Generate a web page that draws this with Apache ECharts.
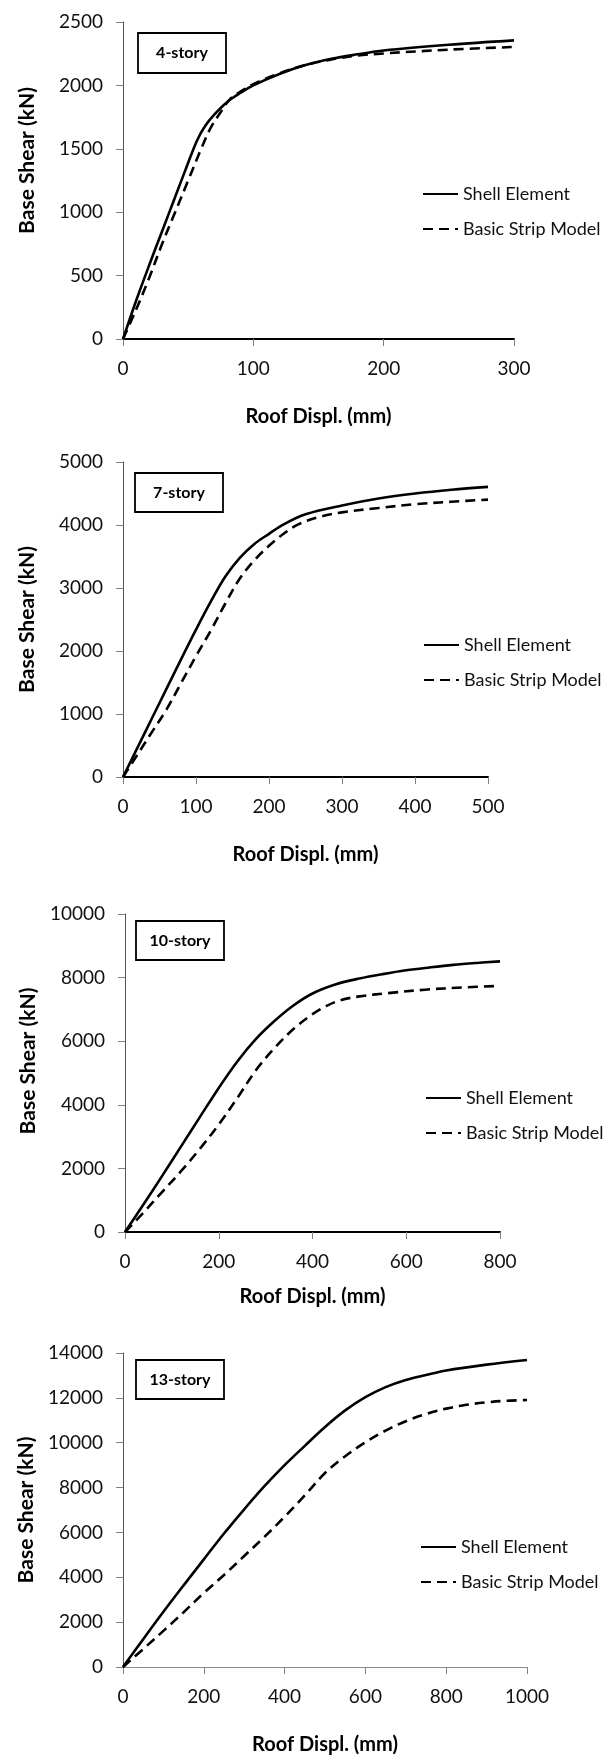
<!DOCTYPE html>
<html>
<head>
<meta charset="utf-8">
<script src="https://cdn.jsdelivr.net/npm/echarts@6/dist/echarts.min.js"></script>
<style>
  html, body { margin: 0; padding: 0; background: #fff; }
  #main { width: 611px; height: 1756px; }
</style>
</head>
<body>
<div id="main"></div>
<script>
// panel labels and axis ranges
var storyLabels = ['4-story', '7-story', '10-story', '13-story'];
var seriesNames = ['Shell Element', 'Basic Strip Model'];
var xMax = [300, 500, 800, 1000];
var xStep = [100, 100, 200, 200];
var yMax = [2500, 5000, 10000, 14000];
var yStep = [500, 1000, 2000, 2000];

// [roof displ. (mm), base shear (kN)]
var shell4 = [[0,0],[10,300],[20,580],[30,850],[40,1120],[50,1390],[57,1570],[63,1680],[70,1770],[80,1870],[90,1940],[100,2000],[120,2090],[140,2160],[160,2210],[180,2245],[200,2275],[250,2320],[300,2355]];
var strip4 = [[0,0],[10,230],[20,480],[30,750],[40,1000],[50,1250],[60,1500],[67,1660],[75,1790],[82,1890],[90,1950],[100,2010],[120,2095],[140,2160],[160,2205],[180,2235],[200,2252],[250,2282],[300,2303]];

var shell7 = [[0,0],[20,470],[40,940],[60,1410],[80,1880],[100,2340],[120,2780],[140,3180],[160,3480],[180,3700],[200,3860],[220,4010],[250,4170],[300,4310],[350,4420],[400,4500],[450,4560],[500,4605]];
var strip7 = [[0,0],[20,360],[40,720],[60,1080],[80,1500],[100,1920],[120,2320],[140,2750],[160,3150],[180,3440],[200,3670],[220,3860],[240,4010],[270,4130],[300,4200],[350,4270],[400,4330],[450,4370],[500,4403]];

var shell10 = [[0,0],[40,880],[80,1780],[120,2700],[160,3620],[200,4530],[240,5370],[280,6080],[320,6650],[360,7130],[400,7500],[450,7790],[500,7970],[550,8110],[600,8230],[650,8320],[700,8400],[750,8460],[800,8510]];
var strip10 = [[0,0],[40,620],[80,1270],[120,1920],[160,2620],[200,3380],[240,4220],[280,5100],[320,5800],[360,6390],[400,6850],[430,7110],[460,7290],[500,7410],[560,7510],[640,7620],[720,7690],[800,7740]];

var shell13 = [[0,0],[50,1240],[100,2460],[150,3640],[200,4800],[250,5950],[300,7030],[350,8060],[400,9000],[450,9860],[500,10700],[550,11440],[600,12030],[650,12480],[700,12800],[750,13020],[800,13220],[900,13480],[1000,13690]];
var strip13 = [[0,0],[50,800],[100,1610],[150,2440],[200,3300],[250,4100],[300,4950],[350,5800],[400,6700],[450,7650],[500,8650],[550,9400],[600,10020],[650,10540],[700,10960],[750,11280],[800,11520],[850,11690],[900,11800],[950,11870],[1000,11905]];

var shellData = [shell4, shell7, shell10, shell13];
var stripData = [strip4, strip7, strip10, strip13];

var font = 'Lato, "Open Sans", sans-serif';

// plot areas in px
var plots = [
  { left: 123, top: 22,   right: 514, bottom: 339 },
  { left: 123, top: 462,  right: 488, bottom: 777 },
  { left: 125, top: 914,  right: 500, bottom: 1232 },
  { left: 123, top: 1353, right: 527, bottom: 1669 }
];
var legendPos = [[422, 185], [423, 636], [425, 1089], [420, 1538]];
var boxes = [[138, 33, 88, 40], [135, 473, 88, 39], [136, 921, 88, 39], [136, 1360, 88, 39]];
var xNameGap = [68, 68, 55, 68];
var yNamePad = [40, 0, 24, 0];

function plain(v) { return String(v); }

var grid = [], xAxis = [], yAxis = [], series = [], legend = [], graphic = [];

for (var i = 0; i < 4; i++) {
  var p = plots[i];
  grid.push({
    left: p.left, top: p.top,
    width: p.right - p.left, height: p.bottom - p.top,
    containLabel: false
  });
  xAxis.push({
    gridIndex: i, type: 'value', min: 0, max: xMax[i], interval: xStep[i],
    name: 'Roof Displ. (mm)', nameLocation: 'middle', nameGap: xNameGap[i],
    nameTextStyle: { fontFamily: font, fontWeight: 'bold', fontSize: 20, color: '#000' },
    axisLine: { show: true, lineStyle: { color: i < 3 ? '#000' : '#8c8c8c', width: i < 3 ? 2 : 1 } },
    axisTick: { show: true, length: 7, lineStyle: { color: '#808080' } },
    splitLine: { show: false },
    axisLabel: { fontFamily: font, fontSize: 19, color: '#111', margin: 20, formatter: plain }
  });
  yAxis.push({
    gridIndex: i, type: 'value', min: 0, max: yMax[i], interval: yStep[i],
    name: 'Base Shear (kN)', nameLocation: 'middle', nameGap: 85,
    nameTextStyle: { fontFamily: font, fontWeight: 'bold', fontSize: 21, color: '#000',
                     padding: [0, 0, 0, yNamePad[i]] },
    axisLine: { show: true, lineStyle: { color: '#555', width: 1 } },
    axisTick: { show: true, length: 7, lineStyle: { color: '#808080' } },
    splitLine: { show: false },
    axisLabel: { fontFamily: font, fontSize: 19, color: '#111', margin: 20, formatter: plain }
  });
  series.push({
    name: seriesNames[0], type: 'line', xAxisIndex: i, yAxisIndex: i,
    data: shellData[i], smooth: 0.35, symbol: 'none',
    lineStyle: { color: '#000', width: 2.6 }, itemStyle: { color: '#000' }
  });
  series.push({
    name: seriesNames[1], type: 'line', xAxisIndex: i, yAxisIndex: i,
    data: stripData[i], smooth: 0.35, symbol: 'none',
    lineStyle: { color: '#000', width: 2.6, type: [10, 6] }, itemStyle: { color: '#000' }
  });
  legend.push({
    data: seriesNames, orient: 'vertical',
    left: legendPos[i][0], top: legendPos[i][1],
    itemWidth: 35, itemHeight: 18, itemGap: 17, padding: 0,
    itemStyle: { opacity: 0 },
    textStyle: { fontFamily: font, fontSize: 18, color: '#111', lineHeight: 18 }
  });
  var b = boxes[i];
  graphic.push({
    type: 'rect', shape: { x: b[0], y: b[1], width: b[2], height: b[3] },
    style: { fill: '#fff', stroke: '#000', lineWidth: 1.8 }, z: 10
  });
  graphic.push({
    type: 'text', x: b[0] + b[2] / 2, y: b[1] + b[3] / 2, z: 11,
    style: { text: storyLabels[i], align: 'center', verticalAlign: 'middle',
             font: 'bold 16px ' + font, fill: '#000' }
  });
}

var chart = echarts.init(document.getElementById('main'));
chart.setOption({
  backgroundColor: '#fff',
  animation: false,
  grid: grid,
  xAxis: xAxis,
  yAxis: yAxis,
  legend: legend,
  graphic: graphic,
  series: series
});
</script>
</body>
</html>
